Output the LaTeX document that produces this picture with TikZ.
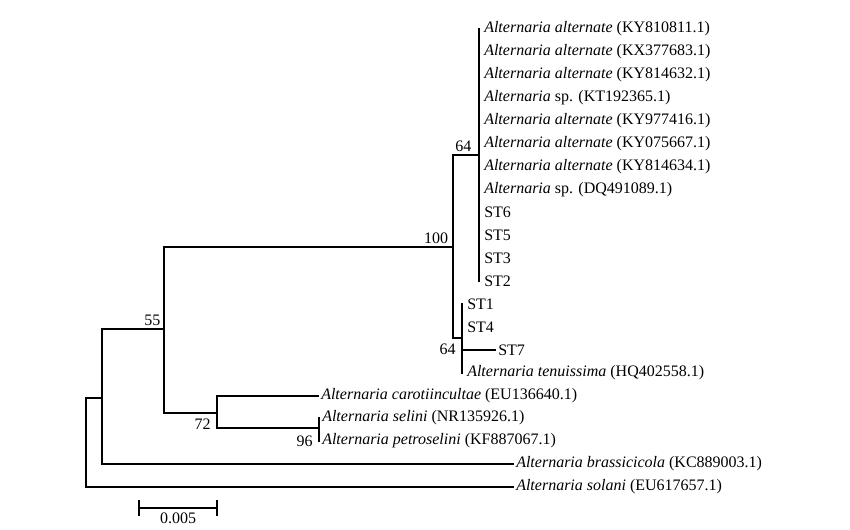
\documentclass[tikz,border=0pt]{standalone}
\usepackage{fontspec}
\setmainfont{Liberation Serif}
\usetikzlibrary{calc}
\begin{document}
\begin{tikzpicture}[x=0.75pt,y=-0.75pt,
  br/.style={line width=1.5pt,line cap=rect},
  leaf/.style={anchor=west,inner sep=0pt,font=\fontsize{12}{14}\selectfont},
  boot/.style={inner sep=1.5pt,font=\fontsize{12}{14}\selectfont},
  every node/.append style={text=black}]
\useasboundingbox (0,0) rectangle (850,529);
% internal node coordinates
\coordinate (nA) at (479,155);
\coordinate (nH) at (453,247);
\coordinate (nT) at (462,338);
\coordinate (nF) at (164,329);
\coordinate (nG) at (217,413);
\coordinate (nS) at (319,428);
\coordinate (nB) at (102,398);
\coordinate (nR) at (86,398);
% leaves, top cluster
\foreach \i/\t [count=\k] in {
  0/{\textit{Alternaria alternate} (KY810811.1)},
  1/{\textit{Alternaria alternate} (KX377683.1)},
  2/{\textit{Alternaria alternate} (KY814632.1)},
  3/{\textit{Alternaria} sp. (KT192365.1)},
  4/{\textit{Alternaria alternate} (KY977416.1)},
  5/{\textit{Alternaria alternate} (KY075667.1)},
  6/{\textit{Alternaria alternate} (KY814634.1)},
  7/{\textit{Alternaria} sp. (DQ491089.1)},
  8/{ST6}, 9/{ST5}, 10/{ST3}, 11/{ST2}}
  \node[leaf] (L\k) at (484,29+22.9*\i) {\t};
\node[leaf] (ST1) at (467,304) {ST1};
\node[leaf] (ST4) at (467,327) {ST4};
\node[leaf] (ST7) at (498,350) {ST7};
\node[leaf] (ten) at (467,373) {\textit{Alternaria tenuissima} (HQ402558.1)};
\node[leaf] (car) at (321,396) {\textit{Alternaria carotiincultae} (EU136640.1)};
\node[leaf] (sel) at (322,418) {\textit{Alternaria selini} (NR135926.1)};
\node[leaf] (pet) at (322,441) {\textit{Alternaria petroselini} (KF887067.1)};
\node[leaf] (bra) at (516,464) {\textit{Alternaria brassicicola} (KC889003.1)};
\node[leaf] (sol) at (516,487) {\textit{Alternaria solani} (EU617657.1)};
% branches
\draw[br] (nA |- L1.west) -- (nA |- L12.west);
\draw[br] (nH |- nA) -- (nA);
\draw[br] (nH |- nA) -- (nH |- nT);
\draw[br] (nH |- nT) -- (nT);
\draw[br] (nT |- ST1.west) -- (nT |- ten.west);
\draw[br] (nT |- ST7.west) -- ([xshift=-2]ST7.west);
\draw[br] (nF |- nH) -- (nH);
\draw[br] (nF |- nH) -- (nF |- nG);
\draw[br] (nF |- nG) -- (nG);
\draw[br] (nG |- car.west) -- (nG |- nS);
\draw[br] (nG |- car.west) -- ([xshift=-2]car.west);
\draw[br] (nG |- nS) -- (nS);
\draw[br] (nS |- sel.west) -- (nS |- pet.west);
\draw[br] (nB |- nF) -- (nF);
\draw[br] (nB |- nF) -- (nB |- bra.west);
\draw[br] (nB |- bra.west) -- ([xshift=-2]bra.west);
\draw[br] (nR |- nB) -- (nB);
\draw[br] (nR |- nB) -- (nR |- sol.west);
\draw[br] (nR |- sol.west) -- ([xshift=-2]sol.west);
% bootstrap values
\node[boot,anchor=south east] (b1) at ([xshift=-4,yshift=1]nA) {64};
\node[boot,anchor=south east] (b2) at ([xshift=-2,yshift=1]nH) {100};
\node[boot,anchor=north east] (b3) at ([xshift=-3,yshift=-3]nT) {64};
\node[boot,anchor=south east] (b4) at ([xshift=-1,yshift=1]nF) {55};
\node[boot,anchor=north east] (b5) at ([xshift=-3,yshift=-3]nG) {72};
\node[boot,anchor=north east] (b6) at ([xshift=-3,yshift=-4]nS) {96};
% scale bar
\coordinate (s1) at (139,508);
\coordinate (s2) at (217,508);
\draw[line width=1.5pt] (s1) -- (s2);
\draw[line width=1.5pt] ([yshift=-6]s1) -- ([yshift=6]s1);
\draw[line width=1.5pt] ([yshift=-6]s2) -- ([yshift=6]s2);
\node[boot,anchor=north] (sl) at ($(s1)!0.5!(s2)+(0,3)$) {0.005};
\end{tikzpicture}
\end{document}
